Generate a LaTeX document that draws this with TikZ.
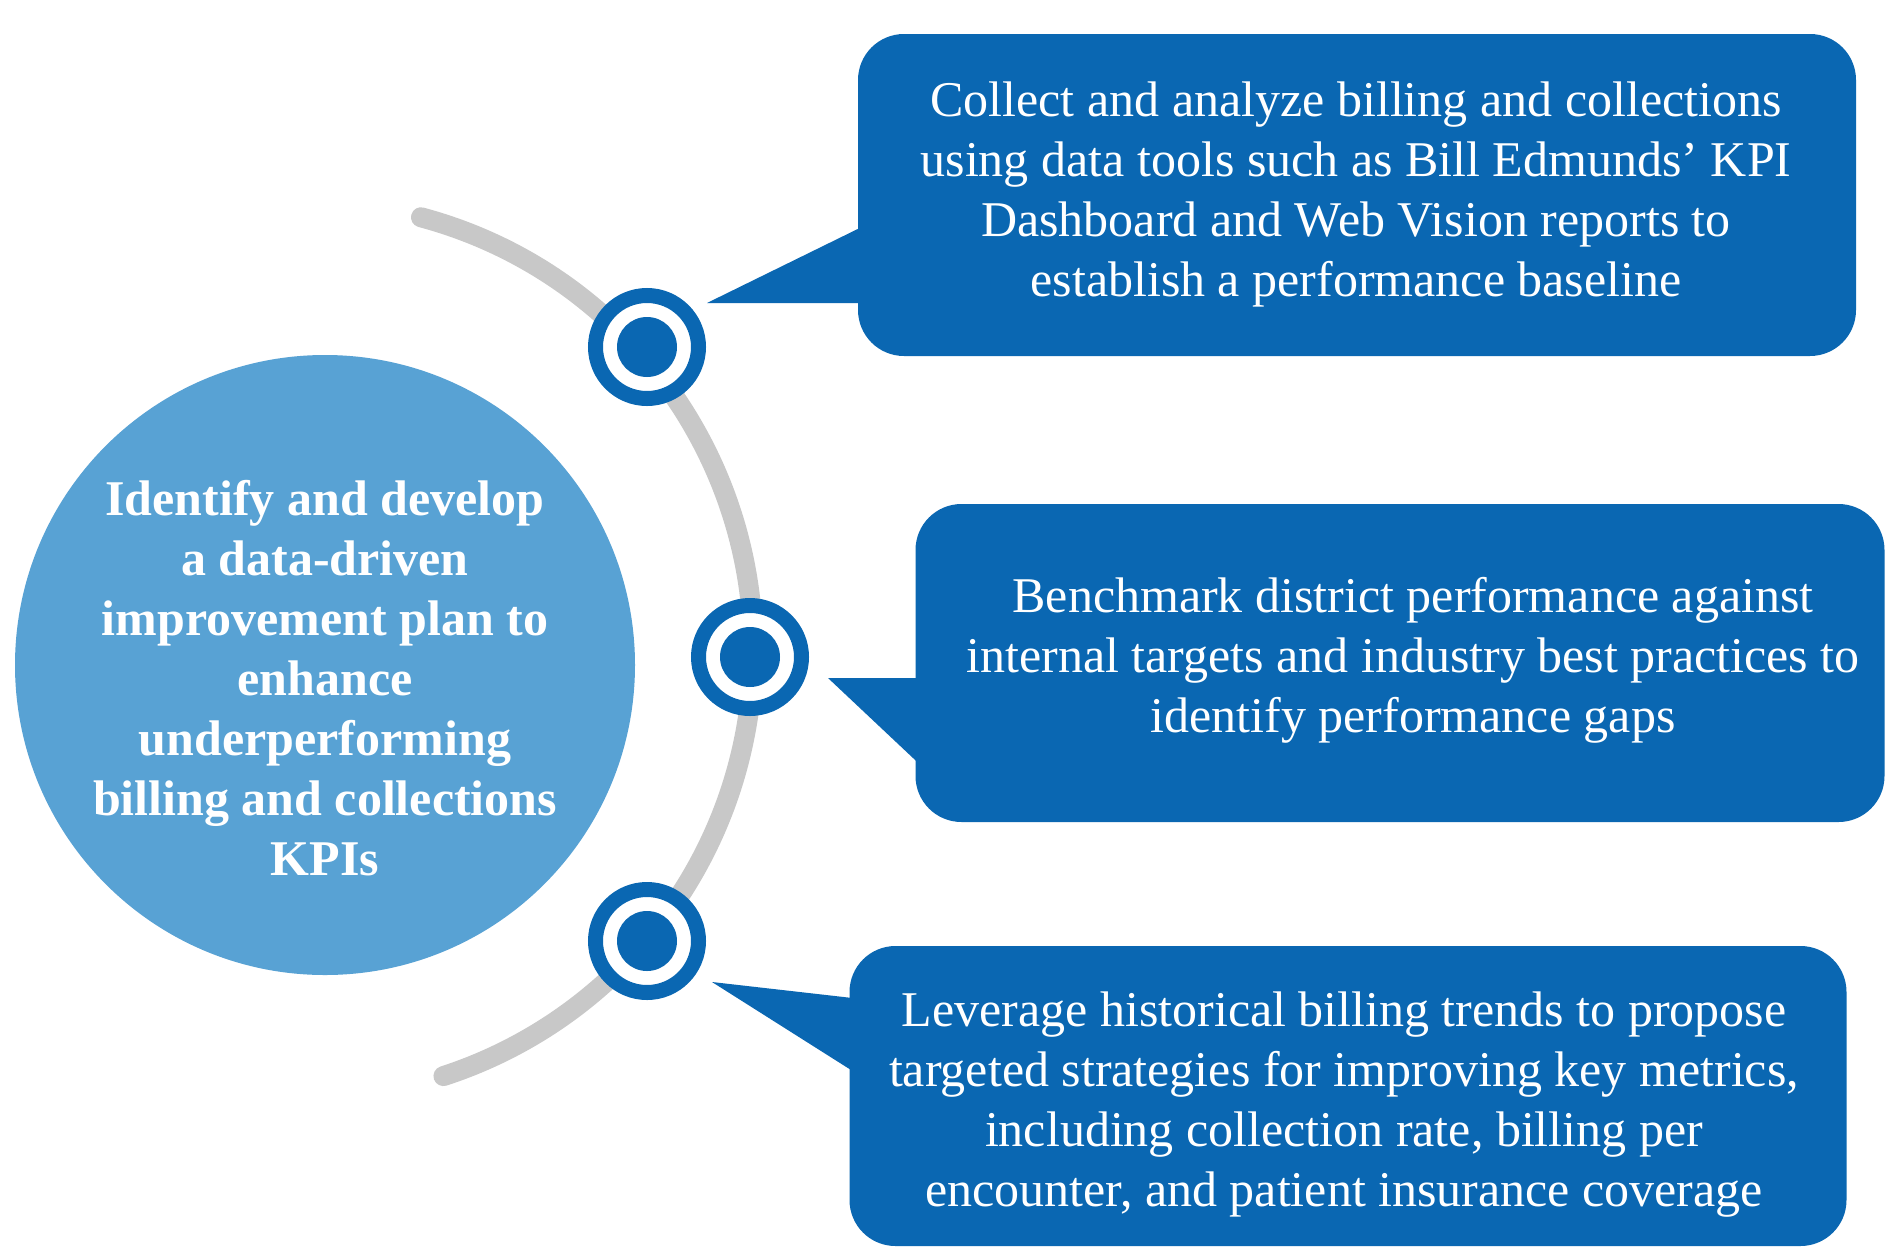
\documentclass[tikz,border=0pt]{standalone}
\usepackage{fontspec}
\setmainfont{Liberation Serif}
\definecolor{darkblue}{HTML}{0A67B2}
\definecolor{lightblue}{HTML}{58A2D4}
\definecolor{arcgray}{HTML}{C8C8C8}
\begin{document}
\begin{tikzpicture}[x=1pt,y=-1pt,
  callout/.style={fill=darkblue, rounded corners=46pt, inner sep=0pt},
  bodytext/.style={text=white, align=center, font=\fontsize{50}{60}\selectfont},
  ringdot/.style={circle, fill=darkblue, inner sep=0pt, minimum size=60pt},
  ringwhite/.style={circle, fill=white, draw=darkblue, line width=15pt, inner sep=0pt, minimum size=103pt}
]
\useasboundingbox[fill=white] (0,0) rectangle (1890,1248);

% gray arc
\draw[arcgray, line width=20pt, line cap=round] (305,650) ++(-75:448) arc[start angle=-75, end angle=72, radius=448];

% central circle
\node[circle, fill=lightblue, minimum size=620pt, inner sep=0pt] (core) at (325,665) {};
\node[text=white, align=center, font=\bfseries\fontsize{50}{60}\selectfont] (coretext) at (325,678)
 {Identify and develop\\a data-driven\\improvement plan to\\enhance\\underperforming\\billing and collections\\KPIs};

% callout boxes
\node[callout, minimum width=998pt, minimum height=322pt] (box1) at (1357,195) {};
\node[callout, minimum width=969pt, minimum height=318pt] (box2) at (1400,663) {};
\node[callout, minimum width=997pt, minimum height=300pt] (box3) at (1348,1096) {};

% pointers
\fill[darkblue] (707,303) -- (872,222) -- (872,303) -- cycle;
\fill[darkblue] (828,678) -- (930,678) -- (930,774) -- cycle;
\fill[darkblue] (712,982) -- (870,1000) -- (870,1082) -- cycle;

% rings
\node[ringwhite] (r1) at (647,347) {};
\node[ringdot] (d1) at (r1) {};
\node[ringwhite] (r2) at (750,657) {};
\node[ringdot] (d2) at (r2) {};
\node[ringwhite] (r3) at (647,941) {};
\node[ringdot] (d3) at (r3) {};

% texts
\node[bodytext] (t1) at (1356,194) {Collect and analyze billing and collections\\using data tools such as Bill Edmunds’ KPI\\Dashboard and Web Vision reports to\\establish a performance baseline};
\node[bodytext] (t2) at (1413,660) {Benchmark district performance against\\internal targets and industry best practices to\\identify performance gaps};
\node[bodytext] (t3) at (1344,1105) {Leverage historical billing trends to propose\\targeted strategies for improving key metrics,\\including collection rate, billing per\\encounter, and patient insurance coverage};
\end{tikzpicture}
\end{document}
